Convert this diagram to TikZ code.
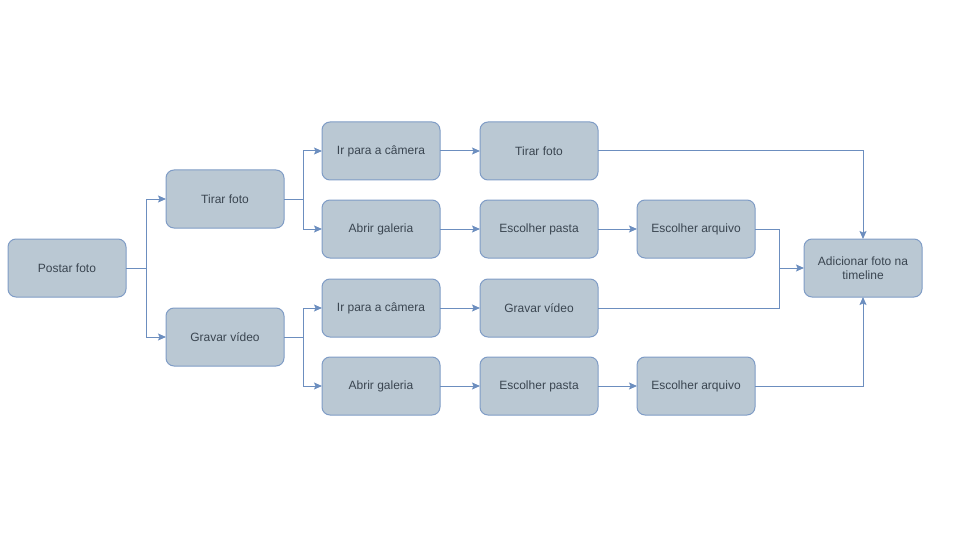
\documentclass[tikz,border=0pt]{standalone}
\usepackage{fontspec}
\setmainfont{Liberation Sans}
\usetikzlibrary{positioning,arrows.meta}
\definecolor{boxfill}{HTML}{BAC8D3}
\definecolor{boxline}{HTML}{7F9CC6}
\definecolor{wire}{HTML}{6C8EBF}
\definecolor{txt}{HTML}{3A4550}
\begin{document}
\begin{tikzpicture}[node distance={40pt}, line width=1pt,
  main/.style = {draw=boxline, fill=boxfill, rounded corners=8pt, minimum width=118pt, minimum height=58pt, inner sep=0pt, outer sep=0pt, align=center, text=txt, font=\fontsize{12pt}{14pt}\selectfont},
  every path/.append style = {>={Stealth[length=8pt,width=7pt,inset=1.5pt]}}]
\useasboundingbox (0,0) rectangle (960pt,-540pt);
\node[main] (1) at (67pt,-268pt) {Postar foto};
\node[main] (2) [right=40pt of 1, yshift=69pt] {Tirar foto};
\node[main] (3) [right=40pt of 1, yshift=-69pt] {Gravar vídeo};
\node[main] (4) [right=38pt of 2, yshift=48pt] {Ir para a câmera};
\node[main] (5) [right=38pt of 2, yshift=-30pt] {Abrir galeria};
\node[main] (6) [right=of 4] {Tirar foto};
\node[main] (7) [right=of 5] {Escolher pasta};
\node[main] (8) [right=39pt of 7] {Escolher arquivo};
\node[main] (9) [right=38pt of 3, yshift=29pt] {Ir para a câmera};
\node[main] (10) [right=38pt of 3, yshift=-49pt] {Abrir galeria};
\node[main] (11) [right=of 9] {Gravar vídeo};
\node[main] (12) [right=of 10] {Escolher pasta};
\node[main] (13) [right=39pt of 12] {Escolher arquivo};
\node[main] (14) [right=49pt of 8, yshift=-39pt] {Adicionar foto na\\timeline};
\coordinate (j) at ([xshift=-25pt]14.west);
\begin{scope}[draw=wire]
\draw[->] (1.east) -- ++(20pt,0) |- (2.west);
\draw[->] (1.east) -- ++(20pt,0) |- (3.west);
\draw[->] (2.east) -- ++(19pt,0) |- (4.west);
\draw[->] (2.east) -- ++(19pt,0) |- (5.west);
\draw[->] (3.east) -- ++(19pt,0) |- (9.west);
\draw[->] (3.east) -- ++(19pt,0) |- (10.west);
\draw[->] (4) -- (6);
\draw[->] (5) -- (7);
\draw[->] (7) -- (8);
\draw[->] (9) -- (11);
\draw[->] (10) -- (12);
\draw[->] (12) -- (13);
\draw[->] (6.east) -| (14.north);
\draw (8.east) -| (j);
\draw (11.east) -| (j);
\draw[->] (j) -- (14.west);
\draw[->] (13.east) -| (14.south);
\end{scope}
\end{tikzpicture}
\end{document}
